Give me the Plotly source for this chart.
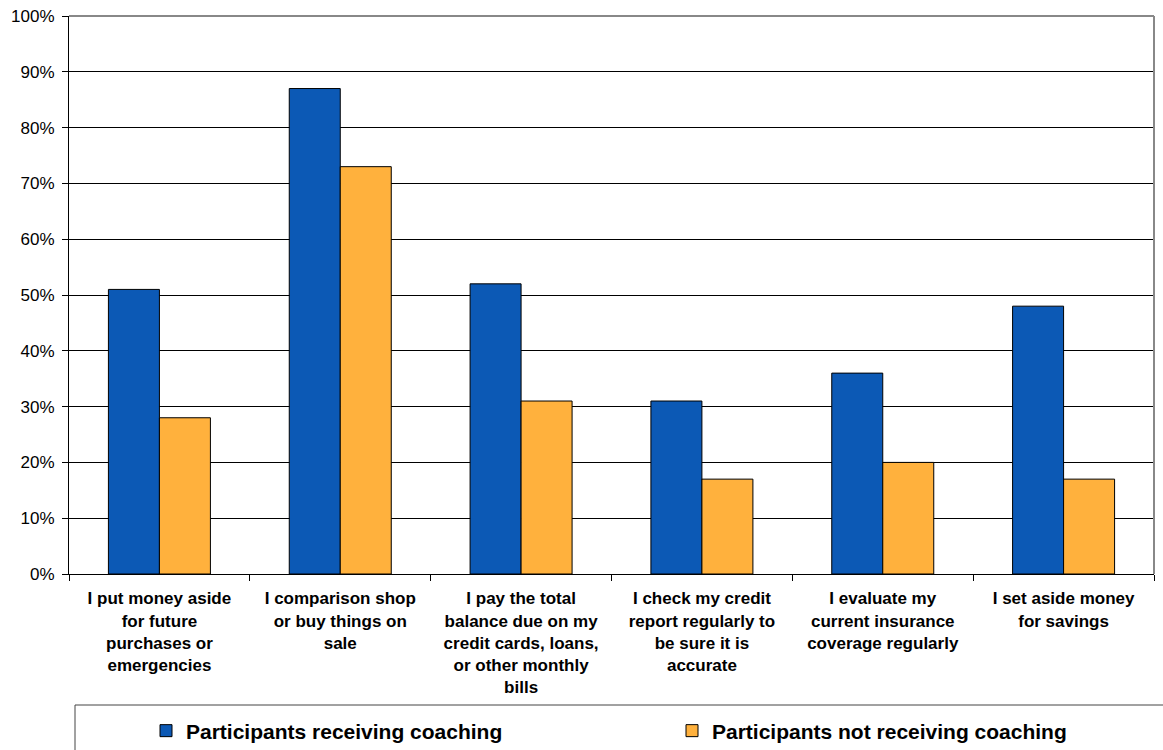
import plotly.graph_objects as go

categories = [
    "I put money aside<br>for future<br>purchases or<br>emergencies",
    "I comparison shop<br>or buy things on<br>sale",
    "I pay the total<br>balance due on my<br>credit cards, loans,<br>or other monthly<br>bills",
    "I check my credit<br>report regularly to<br>be sure it is<br>accurate",
    "I evaluate my<br>current insurance<br>coverage regularly",
    "I set aside money<br>for savings",
]
coaching = [0.51, 0.87, 0.52, 0.31, 0.36, 0.48]
no_coaching = [0.28, 0.73, 0.31, 0.17, 0.20, 0.17]
y_ticks = [i / 10 for i in range(11)]
y_labels = [f"{i*10}%" for i in range(11)]

FONT = "Liberation Sans, Arial, sans-serif"
L, R, T, B = 69, 9, 16, 176
PW, PH = 1163 - L - R, 750 - T - B


def px_x(p):
    return (p - L) / PW


def px_y(p):
    return (750 - B - p) / PH


fig = go.Figure()
fig.add_trace(go.Bar(x=categories, y=coaching, name="Participants receiving coaching",
                     marker=dict(color="#0C59B5", line=dict(color="black", width=1)),
                     legend="legend"))
fig.add_trace(go.Bar(x=categories, y=no_coaching, name="Participants not receiving coaching",
                     marker=dict(color="#FFB13D", line=dict(color="black", width=1)),
                     legend="legend2"))

leg_font = dict(size=21, family=FONT, color="black", weight="bold")
fig.update_layout(
    width=1163, height=750,
    margin=dict(l=L, r=R, t=T, b=B, autoexpand=False),
    paper_bgcolor="white", plot_bgcolor="white",
    barmode="group", bargap=0.436, bargroupgap=0,
    font=dict(family=FONT, color="black"),
    showlegend=True,
    legend=dict(orientation="h", x=px_x(146), xanchor="left", y=px_y(731), yanchor="middle",
                font=leg_font, bgcolor="rgba(0,0,0,0)", borderwidth=0, itemclick=False),
    legend2=dict(orientation="h", x=px_x(672), xanchor="left", y=px_y(731), yanchor="middle",
                 font=leg_font, bgcolor="rgba(0,0,0,0)", borderwidth=0, itemclick=False),
    shapes=[
        dict(type="rect", xref="paper", yref="paper",
             x0=px_x(75), x1=px_x(1175), y0=px_y(760), y1=px_y(705),
             line=dict(color="#444444", width=1), fillcolor="rgba(0,0,0,0)", layer="below"),
        dict(type="line", xref="paper", yref="paper", x0=0, x1=1, y0=1, y1=1,
             line=dict(color="#888888", width=2)),
        dict(type="line", xref="paper", yref="paper", x0=1, x1=1, y0=0, y1=1,
             line=dict(color="#888888", width=2)),
    ],
)
fig.update_xaxes(
    showline=True, linecolor="black", linewidth=1,
    ticks="outside", ticklen=6, tickcolor="black", tickson="boundaries",
    ticklabelstandoff=9,
    tickfont=dict(size=17, family=FONT, color="black", weight="bold"),
    showgrid=False, fixedrange=True,
)
fig.update_yaxes(
    range=[0, 1], tickvals=y_ticks, ticktext=y_labels,
    showline=True, linecolor="black", linewidth=1,
    ticks="outside", ticklen=6, tickcolor="black", ticklabelstandoff=4,
    tickfont=dict(size=17, family=FONT, color="black"),
    showgrid=True, gridcolor="black", gridwidth=1, zeroline=False, fixedrange=True,
)

fig.write_html("out.html")
